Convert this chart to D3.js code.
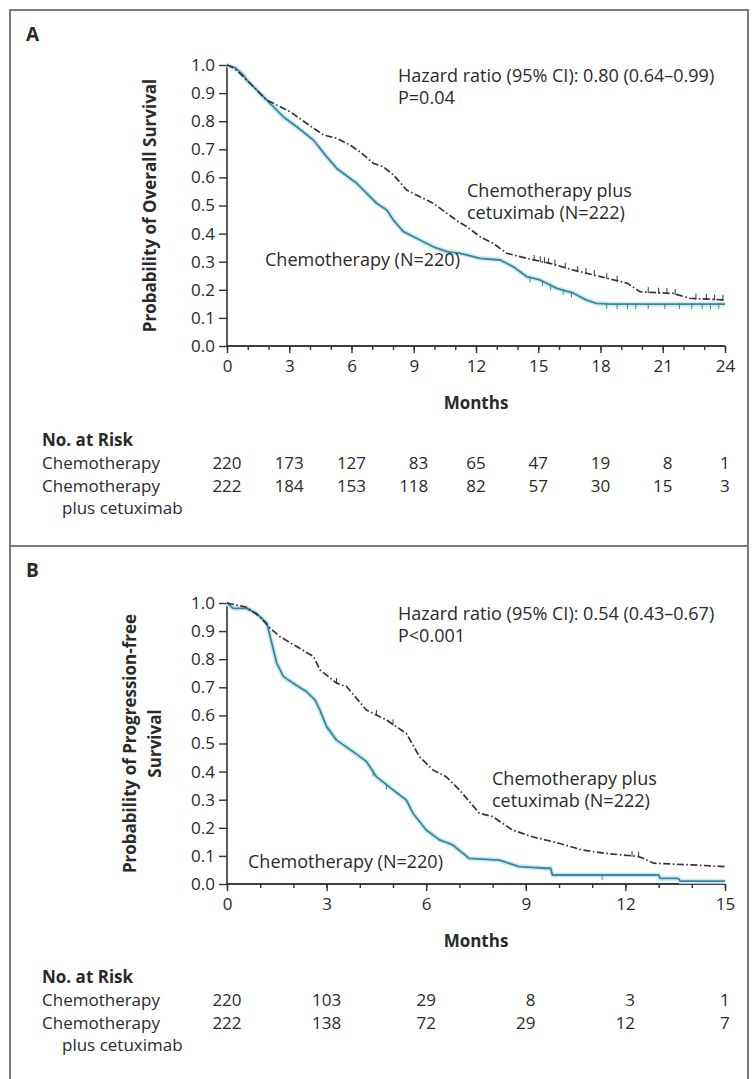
<!DOCTYPE html>
<html>
<head>
<meta charset="utf-8">
<script src="https://cdn.jsdelivr.net/npm/d3@7"></script>
<style>
  body { margin: 0; background: #fff; }
  svg text { font-family: "Open Sans", "Noto Sans", sans-serif; fill: #2a2a2a; }
</style>
</head>
<body>
<div id="chart"></div>
<script>
// --- data ---
const probTicks = [0, 0.1, 0.2, 0.3, 0.4, 0.5, 0.6, 0.7, 0.8, 0.9, 1.0]

// panel A: overall survival
const osMonthTicks = [0, 3, 6, 9, 12, 15, 18, 21, 24]
const osChemo = [[0, 1], [0.4, 0.99], [0.79, 0.964], [0.95, 0.947], [1.59, 0.899], [2.39, 0.84], [2.71, 0.816],
  [3.36, 0.78], [4.16, 0.733], [4.8, 0.674], [5.29, 0.632], [6.25, 0.579], [7.21, 0.508], [7.7, 0.484],
  [8.02, 0.448], [8.5, 0.407], [9.3, 0.377], [9.94, 0.353], [10.6, 0.336], [11.23, 0.33], [12.2, 0.312],
  [13.16, 0.306], [13.8, 0.282], [14.44, 0.247], [15.08, 0.235], [15.9, 0.205], [16.7, 0.188], [17.3, 0.164],
  [17.8, 0.152], [18.5, 0.149], [24, 0.149]]
const osCetux = [[0, 1], [0.3, 0.99], [0.63, 0.97], [1.27, 0.923], [1.91, 0.875], [2.39, 0.858], [3.04, 0.834],
  [3.84, 0.792], [4.64, 0.751], [5.29, 0.739], [5.93, 0.715], [6.41, 0.691], [7.05, 0.65], [7.53, 0.638],
  [8.02, 0.609], [8.66, 0.555], [9.3, 0.531], [9.94, 0.508], [10.6, 0.472], [11.2, 0.44], [11.55, 0.425],
  [12.2, 0.389], [12.83, 0.365], [13.48, 0.33], [14.44, 0.312], [15.57, 0.294], [16.7, 0.27], [18.0, 0.247],
  [19.3, 0.223], [19.9, 0.193], [21.5, 0.187], [22.3, 0.17], [24, 0.164]]
const osChemoCensor = [14.6, 15.2, 15.6, 16.2, 16.6, 18.3, 18.8, 19.3, 19.7, 20.3, 21.1, 21.8, 22.4, 22.9, 23.3, 23.7]
const osCetuxCensor = [14.8, 15.1, 15.3, 15.5, 15.8, 16.3, 16.9, 17.3, 17.7, 18.3, 18.8, 20.3, 20.8, 21.2, 21.6, 22.6, 23.1, 23.5, 23.9]
const osRiskChemo = [220, 173, 127, 83, 65, 47, 19, 8, 1]
const osRiskCetux = [222, 184, 153, 118, 82, 57, 30, 15, 3]

// panel B: progression-free survival
const pfsMonthTicks = [0, 3, 6, 9, 12, 15]
const pfsChemo = [[0, 1], [0.19, 0.981], [0.59, 0.981], [0.89, 0.963], [1.2, 0.928], [1.35, 0.857], [1.5, 0.785],
  [1.7, 0.738], [2.0, 0.714], [2.4, 0.684], [2.65, 0.655], [2.8, 0.619], [3.0, 0.56], [3.3, 0.512],
  [3.8, 0.471], [4.2, 0.436], [4.5, 0.382], [5.0, 0.335], [5.4, 0.299], [5.6, 0.252], [6.0, 0.192],
  [6.4, 0.157], [6.8, 0.139], [7.3, 0.091], [8.2, 0.085], [8.8, 0.062], [9.6, 0.056], [9.75, 0.056],
  [9.8, 0.032], [13.0, 0.032], [13.05, 0.02], [13.6, 0.02], [13.65, 0.01], [15, 0.01]]
const pfsCetux = [[0, 1], [0.59, 0.985], [0.99, 0.951], [1.3, 0.91], [1.6, 0.88], [2.1, 0.845], [2.6, 0.81],
  [2.8, 0.762], [3.3, 0.715], [3.6, 0.703], [4.2, 0.619], [4.8, 0.584], [5.4, 0.536], [5.8, 0.453],
  [6.2, 0.406], [6.6, 0.382], [7.0, 0.335], [7.6, 0.252], [8.0, 0.24], [8.6, 0.192], [9.2, 0.168],
  [10.0, 0.145], [10.7, 0.121], [11.4, 0.109], [12.4, 0.098], [12.85, 0.074], [14.0, 0.068], [15, 0.062]]
const pfsChemoCensor = [4.4, 4.8, 11.3]
const pfsCetuxCensor = [3.3, 4.5, 5.0, 12.2, 12.4]
const pfsRiskChemo = [220, 103, 29, 8, 3, 1]
const pfsRiskCetux = [222, 138, 72, 29, 12, 7]

const COLORS = { chemo: '#3b8798', halo: '#cbeaf3', cetux: '#333', frame: '#7a7a7a', ink: '#2a2a2a' }
const FONT = { label: 18, table: 17, tick: 17, title: 17 }

const svg = d3.select('#chart').append('svg')
  .attr('width', 756).attr('height', 1079)

// panel frames
svg.append('rect').attr('x', 10).attr('y', 10).attr('width', 738).attr('height', 536)
  .attr('fill', 'none').attr('stroke', COLORS.frame).attr('stroke-width', 2)
svg.append('rect').attr('x', 10).attr('y', 546).attr('width', 738).attr('height', 600)
  .attr('fill', 'none').attr('stroke', COLORS.frame).attr('stroke-width', 2)

function valueAt (series, t) {
  const i = d3.bisector(d => d[0]).right(series, t)
  if (i >= series.length) return series[series.length - 1][1]
  const a = series[i - 1]; const b = series[i]
  return a[1] + (b[1] - a[1]) * (t - a[0]) / (b[0] - a[0])
}

function drawPanel (opt) {
  const g = svg.append('g')
  const x = d3.scaleLinear().domain([0, opt.maxMonth]).range([227, 725])
  const y = d3.scaleLinear().domain([0, 1]).range([opt.top + 281, opt.top])

  g.append('text').attr('x', 26).attr('y', opt.letterY)
    .attr('font-size', 19).attr('font-weight', 'bold').text(opt.letter)

  // axes
  const yAxis = g.append('g').attr('transform', 'translate(227,0)')
    .call(d3.axisLeft(y).tickValues(probTicks).tickFormat(d3.format('.1f')).tickSize(8).tickPadding(4))
  const minor = d3.range(0, opt.maxMonth + 1)
  const xAxis = g.append('g').attr('transform', `translate(0,${y(0)})`)
  xAxis.call(d3.axisBottom(x).tickValues(minor).tickSize(4).tickFormat(''))
  xAxis.append('g').call(d3.axisBottom(x).tickValues(opt.ticks).tickSize(7).tickPadding(7).tickFormat(d3.format('d')))
  ;[yAxis, xAxis].forEach(ax => {
    ax.selectAll('path.domain').attr('stroke', '#333').attr('stroke-width', 1.6)
    ax.selectAll('.tick line').attr('stroke', '#333').attr('stroke-width', 1.4)
    ax.selectAll('text').attr('font-size', FONT.tick).attr('fill', COLORS.ink)
      .attr('font-family', '"Open Sans", sans-serif')
  })
  xAxis.selectAll('path.domain').attr('d', `M227,0H725`)
  yAxis.selectAll('path.domain').attr('d', `M0,${y(0)}V${y(1)}`)

  // axis titles
  g.append('text').attr('x', 476).attr('y', y(0) + 63).attr('text-anchor', 'middle')
    .attr('font-size', FONT.title).attr('font-weight', 'bold').text('Months')
  const yt = g.append('text').attr('transform', `translate(${opt.yTitleX},${(y(0) + y(1)) / 2}) rotate(-90)`)
    .attr('text-anchor', 'middle').attr('font-size', FONT.title).attr('font-weight', 'bold')
  opt.yTitle.forEach((line, i) => {
    yt.append('tspan').attr('x', 0).attr('dy', i === 0 ? 0 : 25).text(line)
  })

  // curves
  const line = d3.line().x(d => x(d[0])).y(d => y(d[1]))
  g.append('path').datum(opt.chemo).attr('d', line).attr('fill', 'none')
    .attr('stroke', COLORS.halo).attr('stroke-width', 5).attr('stroke-linejoin', 'round')
  g.append('path').datum(opt.chemo).attr('d', line).attr('fill', 'none')
    .attr('stroke', COLORS.chemo).attr('stroke-width', 1.8).attr('stroke-linejoin', 'round')
  g.append('path').datum(opt.cetux).attr('d', line).attr('fill', 'none')
    .attr('stroke', COLORS.cetux).attr('stroke-width', 1.7).attr('stroke-dasharray', '7,2.5,1.6,2.5')

  // censor marks
  g.selectAll('.censor-chemo').data(opt.chemoCensor).enter().append('line')
    .attr('x1', d => x(d)).attr('x2', d => x(d))
    .attr('y1', d => y(valueAt(opt.chemo, d)) - 1).attr('y2', d => y(valueAt(opt.chemo, d)) + 5)
    .attr('stroke', COLORS.chemo).attr('stroke-width', 1)
  g.selectAll('.censor-cetux').data(opt.cetuxCensor).enter().append('line')
    .attr('x1', d => x(d)).attr('x2', d => x(d))
    .attr('y1', d => y(valueAt(opt.cetux, d)) - 5).attr('y2', d => y(valueAt(opt.cetux, d)) + 1)
    .attr('stroke', COLORS.cetux).attr('stroke-width', 1)

  // annotations
  g.append('text').attr('x', 398).attr('y', opt.top + 17).attr('font-size', FONT.label).text(opt.hr)
  g.append('text').attr('x', 398).attr('y', opt.top + 39).attr('font-size', FONT.label).text(opt.p)
  g.append('text').attr('x', opt.cetuxLabel[0]).attr('y', opt.cetuxLabel[1]).attr('font-size', FONT.label)
    .call(t => {
      t.append('tspan').attr('x', opt.cetuxLabel[0]).text('Chemotherapy plus')
      t.append('tspan').attr('x', opt.cetuxLabel[0]).attr('dy', 22).text('cetuximab (N=222)')
    })
  g.append('text').attr('x', opt.chemoLabel[0]).attr('y', opt.chemoLabel[1]).attr('font-size', FONT.label)
    .text('Chemotherapy (N=220)')

  // number at risk
  const ry = opt.riskTop
  g.append('text').attr('x', 42).attr('y', ry).attr('font-size', FONT.table).attr('font-weight', 'bold').text('No. at Risk')
  g.append('text').attr('x', 42).attr('y', ry + 23).attr('font-size', FONT.table).text('Chemotherapy')
  g.append('text').attr('x', 42).attr('y', ry + 46).attr('font-size', FONT.table).text('Chemotherapy')
  g.append('text').attr('x', 62).attr('y', ry + 68).attr('font-size', FONT.table).text('plus cetuximab')
  const digitW = 9.7
  ;[opt.riskChemo, opt.riskCetux].forEach((row, r) => {
    g.selectAll(null).data(row).enter().append('text')
      .attr('x', (d, i) => {
        const w = Math.max(String(opt.riskChemo[i]).length, String(opt.riskCetux[i]).length)
        return x(opt.ticks[i]) + w * digitW / 2
      })
      .attr('y', ry + 23 * (r + 1))
      .attr('text-anchor', 'end').attr('font-size', FONT.table).text(d => d)
  })
}

drawPanel({
  letter: 'A', letterY: 41, top: 65, maxMonth: 24, ticks: osMonthTicks,
  yTitle: ['Probability of Overall Survival'], yTitleX: 156,
  chemo: osChemo, cetux: osCetux, chemoCensor: osChemoCensor, cetuxCensor: osCetuxCensor,
  hr: 'Hazard ratio (95% CI): 0.80 (0.64–0.99)', p: 'P=0.04',
  cetuxLabel: [467, 197], chemoLabel: [265, 266],
  riskTop: 446, riskChemo: osRiskChemo, riskCetux: osRiskCetux
})

drawPanel({
  letter: 'B', letterY: 577, top: 603, maxMonth: 15, ticks: pfsMonthTicks,
  yTitle: ['Probability of Progression-free', 'Survival'], yTitleX: 136,
  chemo: pfsChemo, cetux: pfsCetux, chemoCensor: pfsChemoCensor, cetuxCensor: pfsCetuxCensor,
  hr: 'Hazard ratio (95% CI): 0.54 (0.43–0.67)', p: 'P<0.001',
  cetuxLabel: [492, 785], chemoLabel: [248, 868],
  riskTop: 983, riskChemo: pfsRiskChemo, riskCetux: pfsRiskCetux
})
</script>
</body>
</html>
